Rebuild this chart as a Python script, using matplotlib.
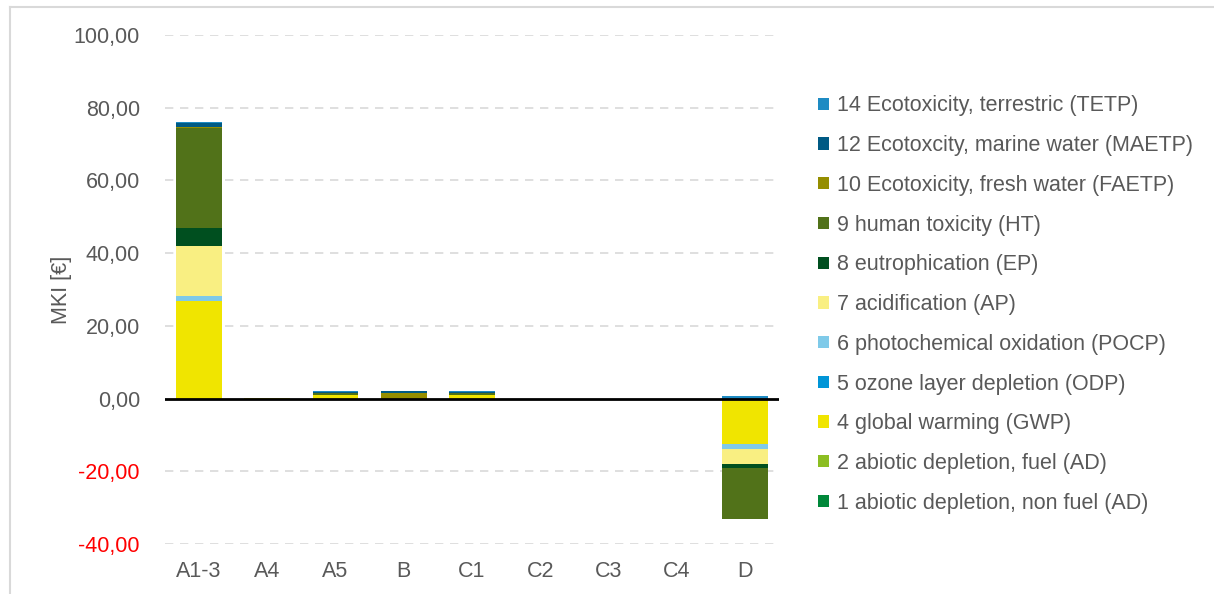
import numpy as np
import matplotlib.pyplot as plt
from matplotlib.lines import Line2D
from matplotlib.patches import Patch

plt.rcParams['font.family'] = ['Liberation Sans', 'DejaVu Sans']

categories = ['A1-3', 'A4', 'A5', 'B', 'C1', 'C2', 'C3', 'C4', 'D']

# impact categories, stacking order bottom -> top
ad_nonfuel = [0, 0, 0, 0, 0, 0, 0, 0, 0]
ad_fuel = [0, 0, 0, 0, 0, 0, 0, 0, 0]
gwp = [26.9, 0.1, 1.0, 0, 1.0, 0, 0, 0, -12.6]
odp = [0, 0, 0, 0, 0, 0, 0, 0, 0]
pocp = [1.4, 0.2, 0.05, 0, 0.05, 0, 0, 0, -1.2]
ap = [13.7, 0, 0.05, 0, 0.05, 0, 0, 0, -4.1]
ep = [4.8, 0, 0, 0, 0, 0, 0, 0, -1.1]
ht = [27.5, 0, 0.5, 0, 0.5, 0, 0, 0, -14.2]
faetp = [0.4, 0, 0, 1.6, 0, 0, 0, 0, 0]
maetp = [1.1, 0, 0.3, 0.6, 0.3, 0, 0, 0, 0]
tetp = [0.4, 0, 0.1, 0, 0.1, 0, 0, 0, 0.8]

series = [
    ('1 abiotic depletion, non fuel (AD)', ad_nonfuel, '#00883A'),
    ('2 abiotic depletion, fuel (AD)', ad_fuel, '#8CBE22'),
    ('4 global warming (GWP)', gwp, '#F0E500'),
    ('5 ozone layer depletion (ODP)', odp, '#0095D7'),
    ('6 photochemical oxidation (POCP)', pocp, '#7FCAE9'),
    ('7 acidification (AP)', ap, '#F9EF82'),
    ('8 eutrophication (EP)', ep, '#004F1F'),
    ('9 human toxicity (HT)', ht, '#517219'),
    ('10 Ecotoxicity, fresh water (FAETP)', faetp, '#958E00'),
    ('12 Ecotoxcity, marine water (MAETP)', maetp, '#005A84'),
    ('14 Ecotoxicity, terrestric (TETP)', tetp, '#1E8BC3'),
]

grey = '#595959'
fs = 15.5
fig = plt.figure(figsize=(12.14, 5.94), dpi=100)
ax = fig.add_axes([0.1359, 0.084, 0.5058, 0.857])

x = np.arange(len(categories))
pos_bottom = np.zeros(len(categories))
neg_bottom = np.zeros(len(categories))
for name, vals, col in series:
    v = np.array(vals, dtype=float)
    pos = np.where(v > 0, v, 0)
    neg = np.where(v < 0, v, 0)
    ax.bar(x, pos, 0.67, bottom=pos_bottom, color=col, zorder=3)
    ax.bar(x, neg, 0.67, bottom=neg_bottom, color=col, zorder=3)
    pos_bottom += pos
    neg_bottom += neg

ax.set_xlim(-0.5, len(categories) - 0.5)
ax.set_ylim(-40, 100)
ticks = np.arange(-40, 101, 20)
ax.set_yticks(ticks)
ax.set_yticklabels([f'{t:.2f}'.replace('.', ',') for t in ticks], fontsize=fs)
for lab, t in zip(ax.get_yticklabels(), ticks):
    lab.set_color('red' if t < 0 else grey)
ax.set_xticks(x)
ax.set_xticklabels(categories, fontsize=fs, color=grey)
ax.tick_params(length=0)
ax.tick_params(axis='y', pad=18)
ax.tick_params(axis='x', pad=12)

for t in ticks:
    if t != 0:
        ax.axhline(t, color='#D9D9D9', linestyle=(0, (5, 4)), linewidth=1.2, zorder=1)
ax.axhline(0, color='black', linewidth=2, zorder=4)
for s in ax.spines.values():
    s.set_visible(False)

ax.set_ylabel('MKI [€]', fontsize=fs, color=grey)
ax.yaxis.set_label_coords(-0.152, 0.5)

handles = [Patch(facecolor=col, label=name) for name, vals, col in series][::-1]
fig.legend(handles=handles, loc='upper left', bbox_to_anchor=(0.658, 0.872),
           frameon=False, fontsize=fs, labelcolor=grey,
           handlelength=0.5, handleheight=0.5, handletextpad=0.38, labelspacing=0.87)

# outer frame (top and left edge visible)
fig.add_artist(Line2D([0.008, 1.0], [0.989, 0.989], color='#D9D9D9', linewidth=1.5))
fig.add_artist(Line2D([0.008, 0.008], [0.0, 0.989], color='#D9D9D9', linewidth=1.5))

fig.savefig('out.png', dpi=100)
